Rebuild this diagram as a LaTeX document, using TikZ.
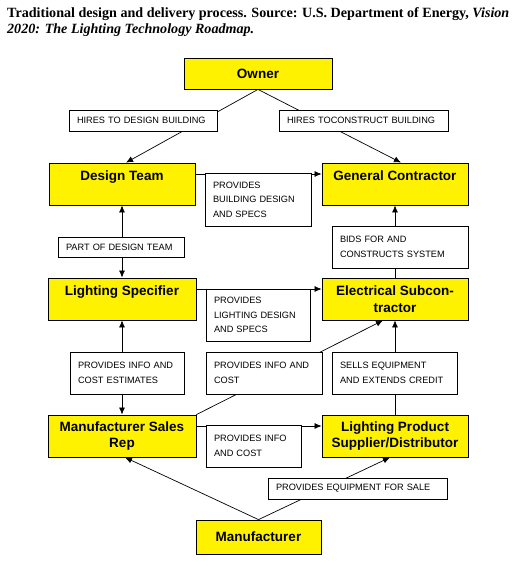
\documentclass[tikz,border=0pt]{standalone}
\usepackage{fontspec}
\setmainfont{Liberation Serif}
\setsansfont{Liberation Sans}
\usetikzlibrary{arrows.meta}

\tikzset{
  party/.style={draw, fill=yellow, line width=0.8pt, font=\sffamily\bfseries\fontsize{13.5}{16.5}\selectfont,
    align=center, inner sep=0pt, minimum width=146pt, minimum height=42pt},
  note/.style={draw, fill=white, line width=0.6pt, font=\sffamily\fontsize{9.2}{14.5}\selectfont,
    align=left, inner xsep=8pt, inner ysep=0pt, minimum height=42pt},
  link/.style={line width=0.7pt, -{Latex[length=7pt,width=6pt]}},
  both/.style={line width=0.7pt, {Latex[length=7pt,width=6pt]}-{Latex[length=7pt,width=6pt]}},
}

\begin{document}
\begin{tikzpicture}[x=1pt,y=-1pt]
    \useasboundingbox (0,0) rectangle (513,566);

    \node [anchor=base west, inner sep=0pt, font=\bfseries\fontsize{14.1}{16}\selectfont] (cap1) at (7,17)
        {Traditional design and delivery process. Source: U.S. Department of Energy, \textit{Vision}};
    \node [anchor=base west, inner sep=0pt, font=\bfseries\itshape\fontsize{14.1}{16}\selectfont] (cap2) at (7,33)
        {2020: The Lighting Technology Roadmap.};

    \node [party, minimum width=148pt, minimum height=31pt] (owner) at (258,73.5) {Owner};
    \node [party] (design) at (122,184) {Design Team\\~};
    \node [party] (general) at (395,184) {General Contractor\\~};
    \node [party, minimum width=148pt] (specifier) at (122,299) {Lighting Specifier\\~};
    \node [party] (electrical) at (395,299) {Electrical Subcon-\\tractor};
    \node [party, minimum width=148pt] (salesrep) at (122,436) {Manufacturer Sales\\Rep};
    \node [party] (supplier) at (395,436) {Lighting Product\\Supplier/Distributor};
    \node [party, minimum width=125pt, minimum height=34pt] (maker) at (258.5,537) {Manufacturer};

    \draw [link] (owner.south) -- ([xshift=4pt]design.north);
    \draw [link] (owner.south) -- ([xshift=6pt]general.north);
    \draw [link] ([yshift=10pt]design.east) -- ([yshift=10pt]general.west);
    \draw [both] (specifier.north) -- (design.south);
    \draw [link] ([yshift=10pt]specifier.east) -- ([yshift=10pt]electrical.west);
    \draw [link] (electrical.north) -- (general.south);
    \draw [both] (salesrep.north) -- (specifier.south);
    \draw [link] (salesrep.north east) -- ([xshift=-12pt]electrical.south);
    \draw [link] (supplier.north) -- (electrical.south);
    \draw [link] ([yshift=10pt]salesrep.east) -- ([yshift=10pt]supplier.west);
    \draw [link] (maker.north) -- ([xshift=3pt]salesrep.south);
    \draw [link] (maker.north) -- ([xshift=-5pt]supplier.south);

    \node [note, text width=132pt, minimum height=21pt] (hiredesign) at (143,120.5) {HIRES TO DESIGN BUILDING};
    \node [note, text width=153pt, minimum height=21pt] (hirebuild) at (363.5,120.5) {HIRES TOCONSTRUCT BUILDING};
    \node [note, text width=90pt, minimum height=53pt] (bldgspecs) at (258,199.5) {PROVIDES\\BUILDING DESIGN\\AND SPECS};
    \node [note, text width=110pt, minimum height=20pt] (partof) at (121,247) {PART OF DESIGN TEAM};
    \node [note, text width=120pt] (bids) at (400,247) {BIDS FOR AND\\CONSTRUCTS SYSTEM};
    \node [note, text width=88pt, minimum height=52pt] (ltgspecs) at (258,315) {PROVIDES\\LIGHTING DESIGN\\AND SPECS};
    \node [note, text width=98pt] (estimates) at (127,373) {PROVIDES INFO AND\\COST ESTIMATES};
    \node [note, text width=100pt] (infoelec) at (264,373) {PROVIDES INFO AND\\COST};
    \node [note, text width=109pt] (credit) at (394.5,373) {SELLS EQUIPMENT\\AND EXTENDS CREDIT};
    \node [note, text width=79pt] (infosupp) at (253.5,446) {PROVIDES INFO\\AND COST};
    \node [note, text width=163pt, minimum height=21pt] (forsale) at (357.5,488.5) {PROVIDES EQUIPMENT FOR SALE};
\end{tikzpicture}
\end{document}
